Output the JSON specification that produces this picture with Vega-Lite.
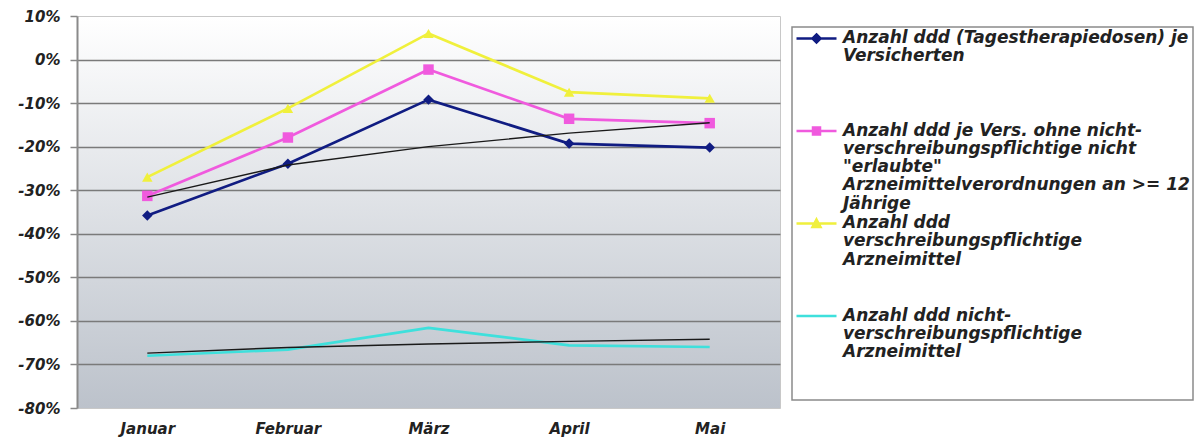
{
  "$schema": "https://vega.github.io/schema/vega-lite/v6.json",
  "width": 703,
  "height": 392,
  "autosize": {"type": "none"},
  "padding": {"left": 77, "top": 16, "right": 415, "bottom": 33},
  "background": "white",
  "config": {
    "view": {
      "fill": {"gradient": "linear", "x1": 0, "y1": 0, "x2": 0, "y2": 1,
        "stops": [{"offset": 0, "color": "#ffffff"}, {"offset": 1, "color": "#bcc2cb"}]},
      "stroke": "#c8c8c8",
      "strokeWidth": 1
    },
    "font": "DejaVu Sans"
  },
  "datasets": {
    "series": [
      {"month": "Januar", "series": "Anzahl ddd (Tagestherapiedosen) je Versicherten", "value": -35.8},
      {"month": "Februar", "series": "Anzahl ddd (Tagestherapiedosen) je Versicherten", "value": -23.9},
      {"month": "März", "series": "Anzahl ddd (Tagestherapiedosen) je Versicherten", "value": -9.2},
      {"month": "April", "series": "Anzahl ddd (Tagestherapiedosen) je Versicherten", "value": -19.3},
      {"month": "Mai", "series": "Anzahl ddd (Tagestherapiedosen) je Versicherten", "value": -20.2},
      {"month": "Januar", "series": "Anzahl ddd je Vers. ohne nicht-verschreibungspflichtige nicht \"erlaubte\" Arzneimittelverordnungen an >= 12 Jährige", "value": -31.3},
      {"month": "Februar", "series": "Anzahl ddd je Vers. ohne nicht-verschreibungspflichtige nicht \"erlaubte\" Arzneimittelverordnungen an >= 12 Jährige", "value": -17.9},
      {"month": "März", "series": "Anzahl ddd je Vers. ohne nicht-verschreibungspflichtige nicht \"erlaubte\" Arzneimittelverordnungen an >= 12 Jährige", "value": -2.3},
      {"month": "April", "series": "Anzahl ddd je Vers. ohne nicht-verschreibungspflichtige nicht \"erlaubte\" Arzneimittelverordnungen an >= 12 Jährige", "value": -13.6},
      {"month": "Mai", "series": "Anzahl ddd je Vers. ohne nicht-verschreibungspflichtige nicht \"erlaubte\" Arzneimittelverordnungen an >= 12 Jährige", "value": -14.6},
      {"month": "Januar", "series": "Anzahl ddd verschreibungspflichtige Arzneimittel", "value": -27.0},
      {"month": "Februar", "series": "Anzahl ddd verschreibungspflichtige Arzneimittel", "value": -11.2},
      {"month": "März", "series": "Anzahl ddd verschreibungspflichtige Arzneimittel", "value": 6.0},
      {"month": "April", "series": "Anzahl ddd verschreibungspflichtige Arzneimittel", "value": -7.5},
      {"month": "Mai", "series": "Anzahl ddd verschreibungspflichtige Arzneimittel", "value": -8.9},
      {"month": "Januar", "series": "Anzahl ddd nicht-verschreibungspflichtige Arzneimittel", "value": -68.0},
      {"month": "Februar", "series": "Anzahl ddd nicht-verschreibungspflichtige Arzneimittel", "value": -66.6},
      {"month": "März", "series": "Anzahl ddd nicht-verschreibungspflichtige Arzneimittel", "value": -61.6},
      {"month": "April", "series": "Anzahl ddd nicht-verschreibungspflichtige Arzneimittel", "value": -65.6},
      {"month": "Mai", "series": "Anzahl ddd nicht-verschreibungspflichtige Arzneimittel", "value": -66.0}
    ],
    "trend": [
      {"month": "Januar", "group": "A", "value": -31.6},
      {"month": "Februar", "group": "A", "value": -24.2},
      {"month": "März", "group": "A", "value": -20.0},
      {"month": "April", "group": "A", "value": -16.9},
      {"month": "Mai", "group": "A", "value": -14.5},
      {"month": "Januar", "group": "B", "value": -67.4},
      {"month": "Februar", "group": "B", "value": -66.1},
      {"month": "März", "group": "B", "value": -65.3},
      {"month": "April", "group": "B", "value": -64.7},
      {"month": "Mai", "group": "B", "value": -64.2}
    ]
  },
  "encoding": {
    "x": {
      "field": "month", "type": "ordinal",
      "sort": ["Januar", "Februar", "März", "April", "Mai"],
      "scale": {"type": "point", "padding": 0.5},
      "axis": {
        "title": null, "labelAngle": 0, "domain": false, "ticks": false, "grid": false,
        "labelFont": "DejaVu Sans", "labelFontWeight": "bold", "labelFontStyle": "italic",
        "labelFontSize": 15, "labelColor": "#222222", "labelPadding": 13
      }
    },
    "y": {
      "field": "value", "type": "quantitative",
      "scale": {"domain": [-80, 10], "nice": false, "zero": false},
      "axis": {
        "title": null,
        "values": [10, 0, -10, -20, -30, -40, -50, -60, -70, -80],
        "labelExpr": "datum.value + '%'",
        "labelFont": "DejaVu Sans", "labelFontWeight": "bold", "labelFontStyle": "italic",
        "labelFontSize": 15, "labelColor": "#222222", "labelPadding": 10,
        "tickSize": 7, "tickColor": "#888888", "tickWidth": 1.5,
        "domainColor": "#8a8a8a", "domainWidth": 2,
        "gridColor": {"condition": {"test": "datum.value == 10 || datum.value == -80", "value": "transparent"}, "value": "#7a7a7a"},
        "gridWidth": 1.5
      }
    }
  },
  "layer": [
    {
      "data": {"name": "series"},
      "mark": {"type": "line", "strokeWidth": 2.7},
      "encoding": {
        "color": {
          "field": "series", "type": "nominal",
          "scale": {
            "domain": [
              "Anzahl ddd (Tagestherapiedosen) je Versicherten",
              "Anzahl ddd je Vers. ohne nicht-verschreibungspflichtige nicht \"erlaubte\" Arzneimittelverordnungen an >= 12 Jährige",
              "Anzahl ddd verschreibungspflichtige Arzneimittel",
              "Anzahl ddd nicht-verschreibungspflichtige Arzneimittel"
            ],
            "range": ["#101c82", "#f05ade", "#f0f03c", "#3ee0dc"]
          },
          "legend": {
            "title": null, "orient": "none", "legendX": 715, "legendY": 11,
            "padding": 3, "fillColor": "white", "strokeColor": "#8a8a8a",
            "symbolSize": 100, "symbolStrokeWidth": 2.5, "symbolOffset": 13,
            "labelOffset": 18, "labelFont": "DejaVu Sans", "labelFontSize": 17,
            "labelFontWeight": "bold", "labelFontStyle": "italic", "labelColor": "#222222",
            "labelLimit": 600, "labelBaseline": "top", "rowPadding": 1.5,
            "labelExpr": "[['Anzahl ddd (Tagestherapiedosen) je','Versicherten',' ',' ',' '],['Anzahl ddd je Vers. ohne nicht-','verschreibungspflichtige nicht','\"erlaubte\"','Arzneimittelverordnungen an >= 12','Jährige'],['Anzahl ddd','verschreibungspflichtige','Arzneimittel',' ',' '],['Anzahl ddd nicht-','verschreibungspflichtige','Arzneimittel',' ',' ']][datum.index]",
            "encode": {
              "symbols": {"update": {
                "shape": {"signal": "['M-4,0H4M0,-0.8L0.8,0L0,0.8L-0.8,0Z','M-4,0H4M-0.7,-0.7H0.7V0.7H-0.7Z','M-4,0H4M0,-0.8L0.8,0.7H-0.8Z','M-4,0H4'][datum.index]"},
                "fill": {"scale": "color", "field": "value"},
                "stroke": {"scale": "color", "field": "value"},
                "strokeWidth": {"value": 2.5}
              }},
              "labels": {"update": {"dy": {"value": -8.5}, "lineHeight": {"value": 18.3}}},
              "legend": {"update": {"strokeWidth": {"value": 1.5}}}
            }
          }
        }
      }
    },
    {
      "data": {"name": "series"},
      "transform": [{"filter": "datum.series != 'Anzahl ddd nicht-verschreibungspflichtige Arzneimittel'"}],
      "mark": {"type": "point", "filled": true, "opacity": 1, "size": 110},
      "encoding": {
        "color": {"field": "series", "type": "nominal", "legend": null},
        "shape": {
          "field": "series", "type": "nominal", "legend": null,
          "scale": {
            "domain": [
              "Anzahl ddd (Tagestherapiedosen) je Versicherten",
              "Anzahl ddd je Vers. ohne nicht-verschreibungspflichtige nicht \"erlaubte\" Arzneimittelverordnungen an >= 12 Jährige",
              "Anzahl ddd verschreibungspflichtige Arzneimittel"
            ],
            "range": ["diamond", "square", "triangle-up"]
          }
        }
      }
    },
    {
      "data": {"name": "trend"},
      "mark": {"type": "line", "color": "#1a1a1a", "strokeWidth": 1.4},
      "encoding": {"detail": {"field": "group", "type": "nominal"}}
    }
  ]
}
